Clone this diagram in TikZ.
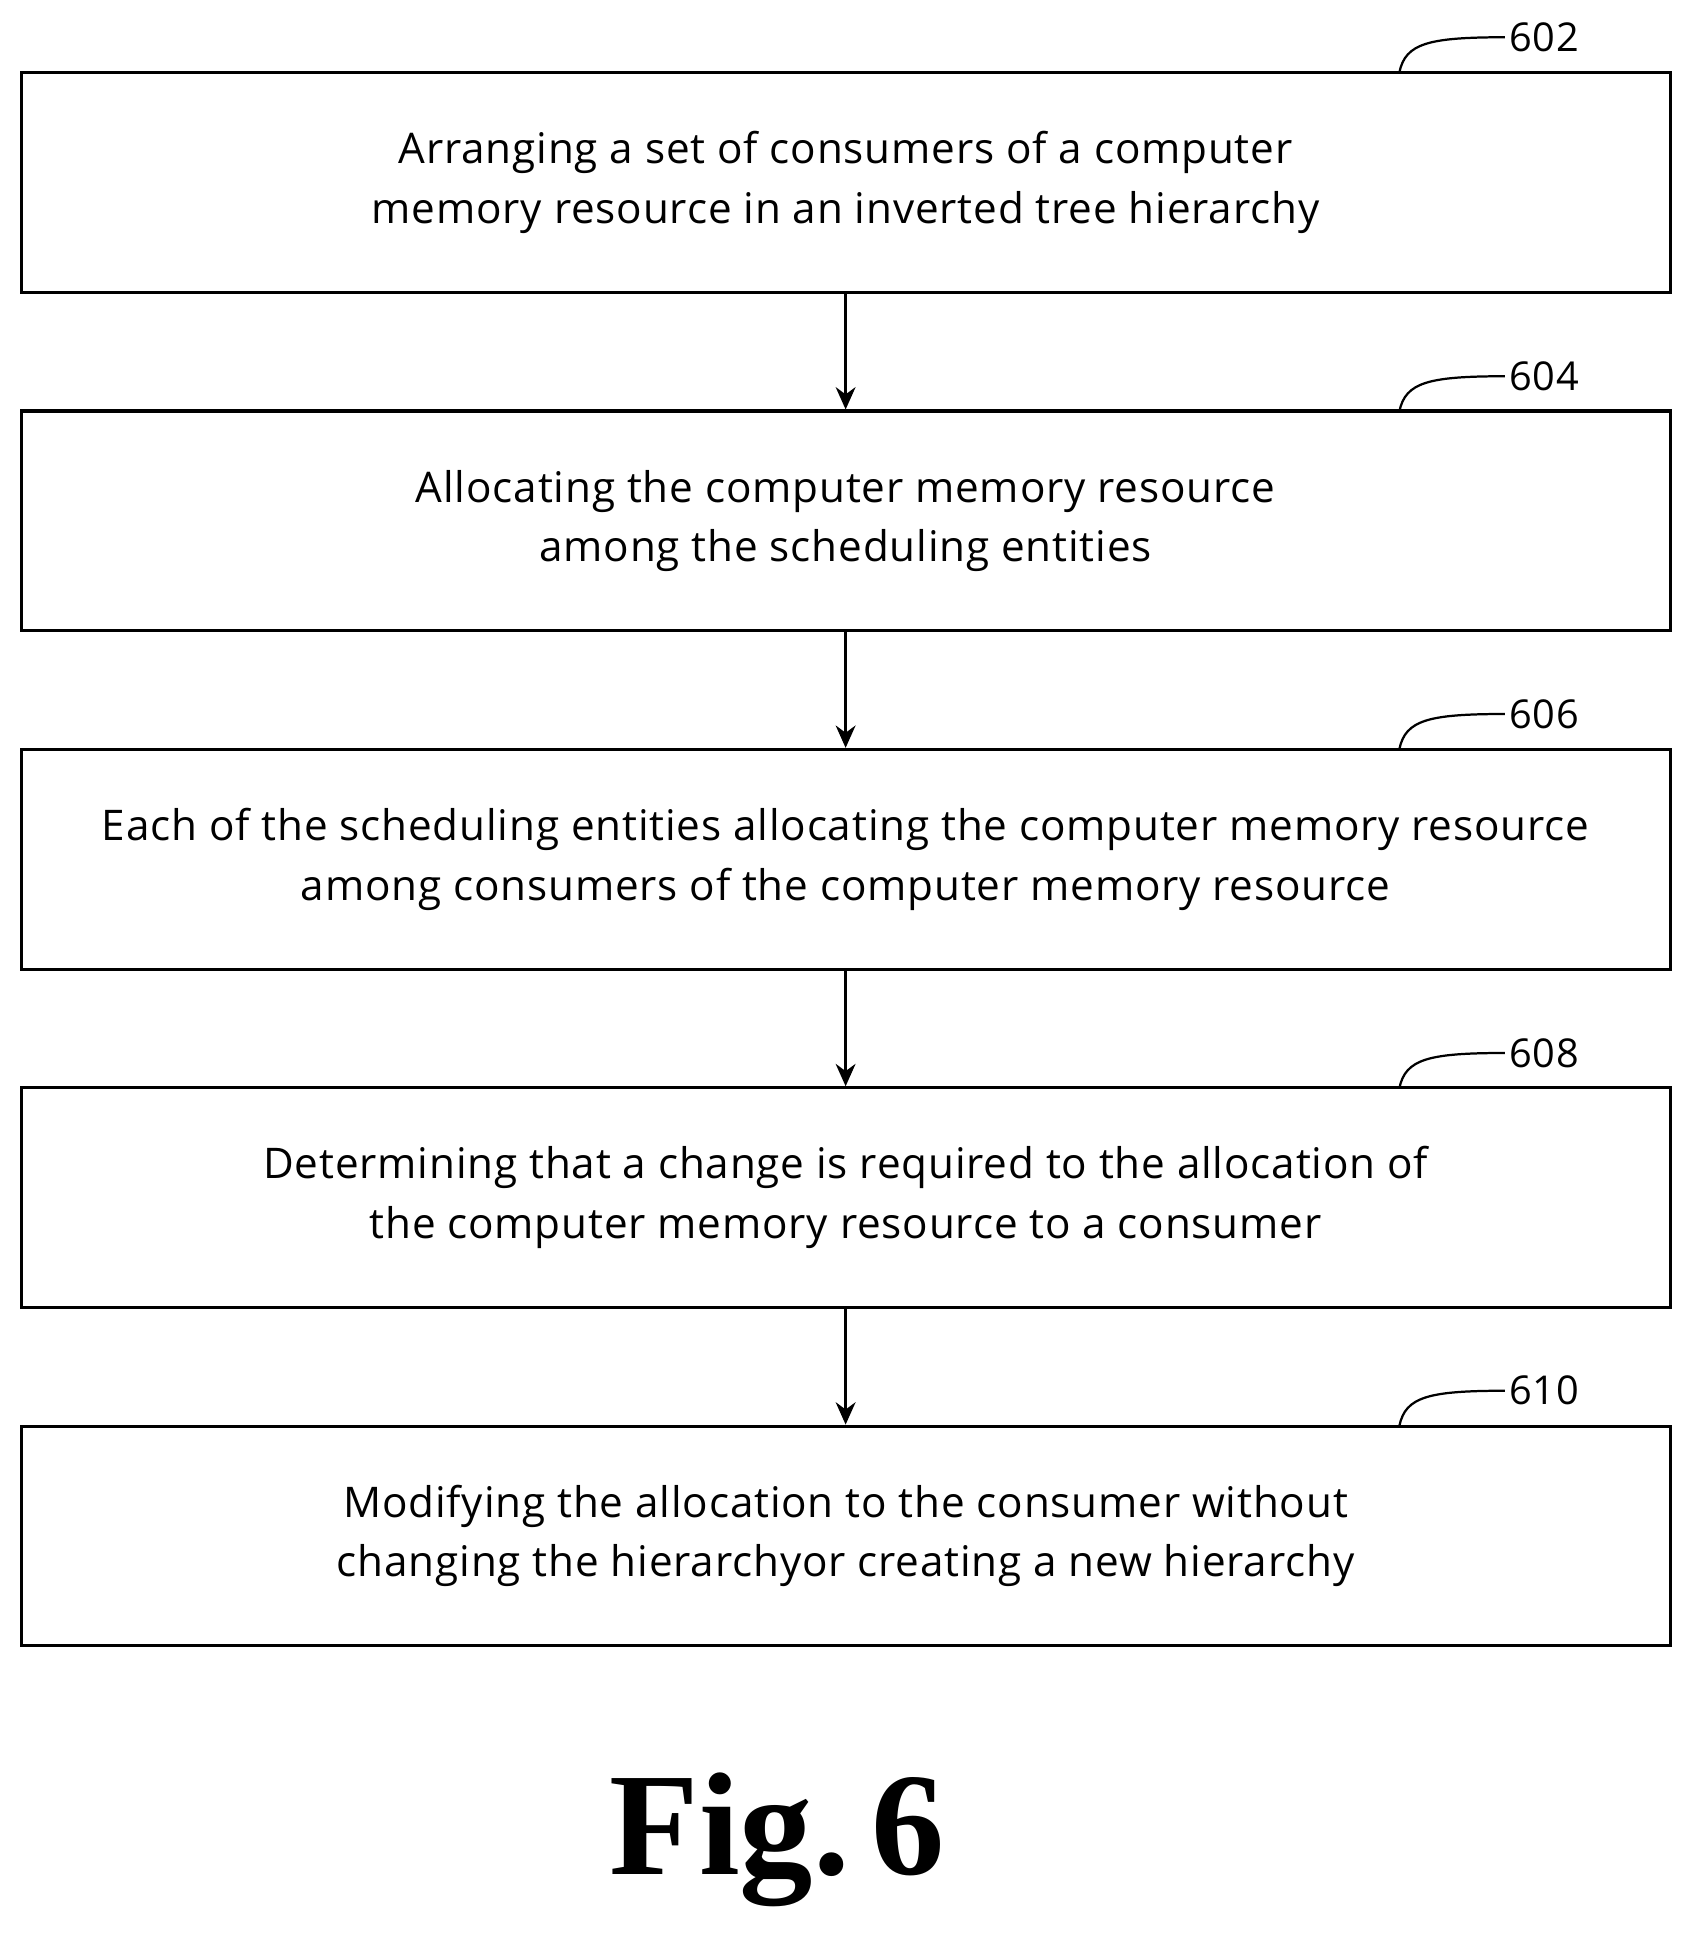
\documentclass[tikz,border=0pt]{standalone}
\usepackage{fontspec}
\setmainfont{Open Sans}[LetterSpace=2]
\newfontfamily\figfont{Liberation Serif}
\usetikzlibrary{arrows.meta}
\begin{document}
\begin{tikzpicture}[x=1pt,y=-1pt,
  box/.style={draw,line width=2.5pt,minimum width=1328pt,minimum height=177pt,align=center,font=\fontsize{34}{48}\selectfont,inner sep=0pt},
  arr/.style={line width=2pt,-{Stealth[length=18pt,width=16pt]}},
  lbl/.style={font=\fontsize{32}{36}\selectfont,anchor=west},
  lead/.style={line width=1.8pt}]
\useasboundingbox (0,0) rectangle (1366,1572);
\node[box] (b1) at (681,147) {Arranging a set of consumers of a computer\\memory resource in an inverted tree hierarchy};
\node[box] (b2) at (681,419.5) {Allocating the computer memory resource\\among the scheduling entities};
\node[box] (b3) at (681,692) {Each of the scheduling entities allocating the computer memory resource\\among consumers of the computer memory resource};
\node[box] (b4) at (681,964.5) {Determining that a change is required to the allocation of\\the computer memory resource to a consumer};
\node[box] (b5) at (681,1237) {Modifying the allocation to the consumer without\\changing the hierarchyor creating a new hierarchy};
\foreach \a/\b in {b1/b2,b2/b3,b3/b4,b4/b5} \draw[arr] (\a.south) -- (\b.north);
\foreach \n/\t/\y in {b1/602/30,b2/604/303,b3/606/575,b4/608/848,b5/610/1120}{
  \node[lbl] (l\t) at (1212,\y) {\t};
  \coordinate (c\t) at (1127,\y+28);
  \draw[lead] (c\t) .. controls (1132,\y+5) and (1150,\y) .. (l\t.west);
}
\node[font=\figfont\bfseries\fontsize{118}{130}\selectfont] (fig) at (626,1482) {Fig.\kern0.15em6};
\end{tikzpicture}
\end{document}
